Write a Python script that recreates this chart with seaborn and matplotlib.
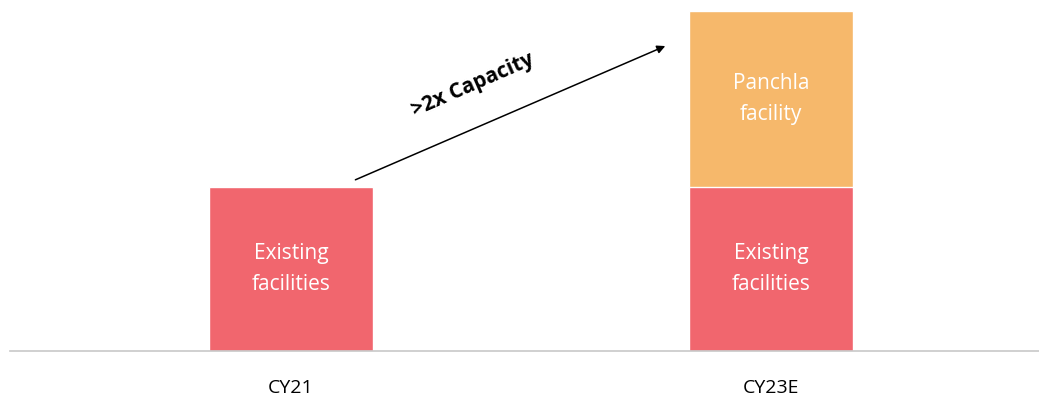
import matplotlib
matplotlib.use("Agg")
import matplotlib.pyplot as plt
import seaborn as sns
import pandas as pd

# chart data
categories = ["CY21", "CY23E"]
existing = [1.0, 1.0]
panchla = [0.0, 1.07]
segment_labels = {"existing": "Existing\nfacilities", "panchla": "Panchla\nfacility"}
growth_label = ">2x Capacity"

red = "#F1666E"
orange = "#F6B86B"

sns.set_theme(style="white")
plt.rcParams["font.family"] = ["Open Sans", "DejaVu Sans"]

df = pd.DataFrame({"period": categories, "existing": existing, "panchla": panchla})
df["total"] = df["existing"] + df["panchla"]

fig = plt.figure(figsize=(10.39, 3.96), dpi=100)
ax = fig.add_axes([10 / 1039, 45 / 396, 1029 / 1039, 351 / 396])

# stacked look: totals in orange, existing in red over them
sns.barplot(data=df, x="period", y="total", color=orange, width=0.342,
            saturation=1, ax=ax)
sns.barplot(data=df, x="period", y="existing", color=red, width=0.342,
            saturation=1, ax=ax)

ax.set_xlim(-0.585, 1.558)
ax.set_ylim(0, 2.14)

# segment labels
for i, row in df.iterrows():
    ax.text(i, row["existing"] / 2, segment_labels["existing"], ha="center",
            va="center", color="white", fontsize=15, linespacing=1.6)
    if row["panchla"] > 0:
        ax.text(i, row["existing"] + row["panchla"] / 2, segment_labels["panchla"],
                ha="center", va="center", color="white", fontsize=15,
                linespacing=1.6)

# growth arrow
ax.annotate("", xy=(0.785, 1.866), xytext=(0.129, 1.037),
            arrowprops=dict(arrowstyle="-|>", color="black", lw=1.1,
                            mutation_scale=12))
ax.text(0.38, 1.62, growth_label, rotation=23.6, ha="center", va="center",
        fontsize=15, fontweight="bold", color="black", rotation_mode="anchor")

ax.set_xlabel("")
ax.set_ylabel("")
ax.set_yticks([])
ax.tick_params(axis="x", length=0, pad=20, labelsize=14, labelcolor="black")
for side in ["top", "left", "right"]:
    ax.spines[side].set_visible(False)
ax.spines["bottom"].set_color("#c8c8c8")
ax.spines["bottom"].set_linewidth(1.2)

fig.savefig("out.png", dpi=100)
